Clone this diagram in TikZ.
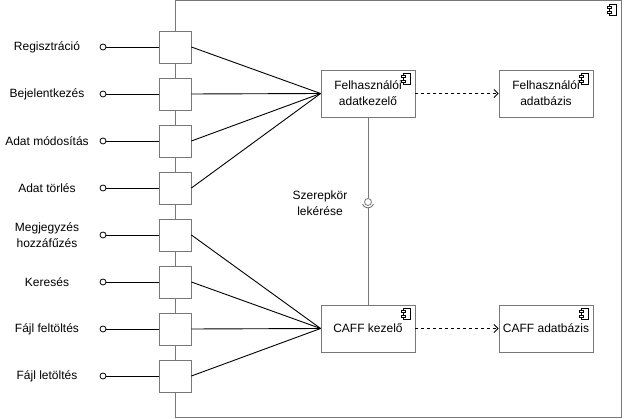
\documentclass[tikz,border=0pt]{standalone}
\usepackage{fontspec}
\setmainfont{Liberation Sans}
\usetikzlibrary{arrows.meta}
\definecolor{bordergray}{RGB}{120,120,120}
\begin{document}
\begin{tikzpicture}[x=1pt,y=-1pt,
  port/.style={draw=bordergray, line width=0.8pt, fill=white, minimum width=32pt, minimum height=32pt, inner sep=0pt},
  comp/.style={draw=bordergray, line width=0.8pt, fill=white, minimum width=94pt, minimum height=47pt, align=center, inner sep=0pt, font=\fontsize{12}{16}\selectfont},
  lbl/.style={align=center, font=\fontsize{12}{16}\selectfont, inner sep=0pt},
  lolly/.style={circle, draw=black, line width=0.8pt, fill=white, minimum size=6pt, inner sep=0pt},
  conn/.style={draw=black, line width=0.9pt},
  gline/.style={draw=bordergray, line width=0.9pt},
  dep/.style={draw=black, line width=0.9pt, dash pattern=on 3pt off 3pt, -{Straight Barb[length=4pt,width=8pt]}},
  compicon/.pic={
    \draw[black, line width=0.5pt, fill=white] (-3,-5.5) rectangle (4,5.5);
    \draw[black, line width=0.5pt, fill=white] (-5,-3.5) rectangle (-1,-1.5);
    \draw[black, line width=0.5pt, fill=white] (-5,1.5) rectangle (-1,3.5);
  }
]
\useasboundingbox (0,0) rectangle (624,419);
\fill[white] (0,0) rectangle (624,419);
% system frame
\node (sys) [draw=bordergray, line width=0.8pt, minimum width=446pt, minimum height=417pt, anchor=north west, inner sep=0pt] at (175,0.5) {};
\pic at (612,9.5) {compicon};

% components
\node (fa) [comp] at (368,93.5) {Felhasználói\\adatkezelő};
\node (fd) [comp] at (546,93.5) {Felhasználói\\adatbázis};
\node (ck) [comp] at (368,328.5) {CAFF kezelő};
\node (cd) [comp] at (546,328.5) {CAFF adatbázis};
\pic at (406,78.5) {compicon};
\pic at (584,78.5) {compicon};
\pic at (406,313.5) {compicon};
\pic at (584,313.5) {compicon};

% ports, lollipops and labels
\foreach \i/\y/\t in {1/47/Regisztráció, 2/94/Bejelentkezés, 3/141/Adat módosítás, 4/188/Adat törlés, 5/235/{Megjegyzés\\hozzáfűzés}, 6/282/Keresés, 7/329/Fájl feltöltés, 8/376/Fájl letöltés}{
  \node (p\i) [port] at (175,\y) {};
  \node (c\i) [lolly] at (103,\y) {};
  \node (l\i) [lbl] at (47,\y) {\t};
  \draw[conn] (c\i) -- (p\i.west);
}
\foreach \i in {1,2,3,4}{ \draw[conn] (p\i.east) -- (fa.west); }
\foreach \i in {5,6,7,8}{ \draw[conn] (p\i.east) -- (ck.west); }

% dependencies
\draw[dep] (fa.east) -- (fd.west);
\draw[dep] (ck.east) -- (cd.west);

% ball and socket
\node (ball) [circle, draw=bordergray, line width=0.8pt, minimum size=7pt, inner sep=0pt] at (368,202) {};
\coordinate (sock) at (368,208);
\draw[gline] (fa.south) -- (ball.north);
\draw[gline] (362.55,204) arc[start angle=160, end angle=20, radius=5.8];
\draw[gline] (sock) -- (ck.north);
\node (rl) [lbl] at (320,203) {Szerepkör\\lekérése};
\end{tikzpicture}
\end{document}
